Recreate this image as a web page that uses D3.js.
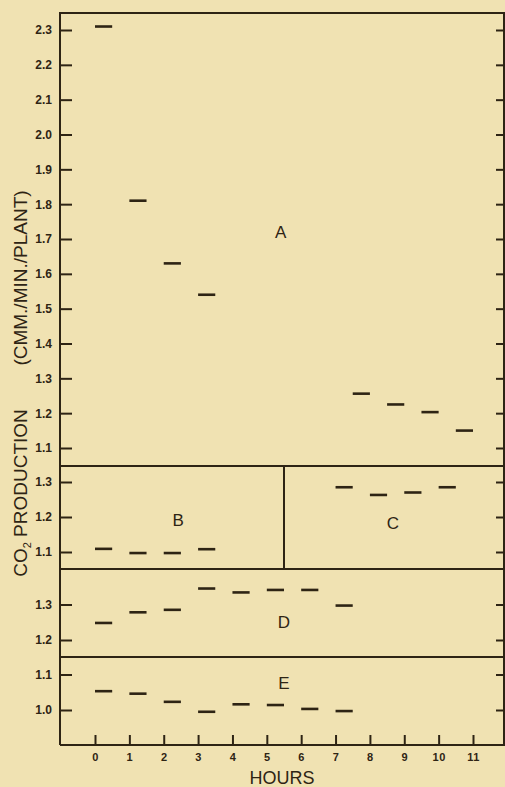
<!DOCTYPE html>
<html>
<head>
<meta charset="utf-8">
<script src="https://cdn.jsdelivr.net/npm/d3@7"></script>
<style>
	html, body { margin: 0; padding: 0; background: #f0e2b2; }
	svg { display: block; }
	.axis text { font-family: "Liberation Sans", Arial, sans-serif; font-weight: bold; font-size: 12px; fill: #2e2414; }
	.axis.x text { font-size: 11px; letter-spacing: 0.5px; }
	.axis line { stroke: #2e2414; stroke-width: 2; }
	.axis .domain { display: none; }
	.frame { stroke: #2e2414; stroke-width: 2; fill: none; }
	.dash { stroke: #2e2414; stroke-width: 2.6; }
	.label { font-family: "Liberation Sans", Arial, sans-serif; fill: #2e2414; }
</style>
</head>
<body>
<svg id="chart" width="505" height="787"></svg>
<script>
// x axis tick labels (hours)
const hours = [0, 1, 2, 3, 4, 5, 6, 7, 8, 9, 10, 11];

// each reading is a half hour dash starting at the given hour
const startA = [0, 1, 2, 3, 7.5, 8.5, 9.5, 10.5];
const co2A = [2.31, 1.81, 1.63, 1.54, 1.256, 1.225, 1.203, 1.15];
const ticksA = [1.1, 1.2, 1.3, 1.4, 1.5, 1.6, 1.7, 1.8, 1.9, 2.0, 2.1, 2.2, 2.3];

const startB = [0, 1, 2, 3];
const co2B = [1.109, 1.097, 1.097, 1.108];
const ticksB = [1.1, 1.2, 1.3];

const startC = [7, 8, 9, 10];
const co2C = [1.285, 1.263, 1.27, 1.285];

const startD = [0, 1, 2, 3, 4, 5, 6, 7];
const co2D = [1.248, 1.278, 1.285, 1.345, 1.334, 1.341, 1.341, 1.297];
const ticksD = [1.2, 1.3];

const startE = [0, 1, 2, 3, 4, 5, 6, 7];
const co2E = [1.053, 1.046, 1.023, 0.995, 1.016, 1.014, 1.003, 0.997];
const ticksE = [1.0, 1.1];

const svg = d3.select("#chart");

// plot box edges
const boxLeft = 60, boxRight = 504, boxTop = 13, boxBottom = 745;

const x = d3.scaleLinear().domain([0, 11]).range([95, 473]);

// one y scale per panel, all with the same units per pixel
const panels = [
	{ y: d3.scaleLinear().domain([1.1, 2.3]).range([448, 30]), ticks: ticksA },
	{ y: d3.scaleLinear().domain([1.1, 1.3]).range([552, 482]), ticks: ticksB },
	{ y: d3.scaleLinear().domain([1.2, 1.3]).range([640, 604.5]), ticks: ticksD },
	{ y: d3.scaleLinear().domain([1.0, 1.1]).range([710, 674.5]), ticks: ticksE }
];
const dividers = [466, 569, 657];

panels.forEach(p => {
	svg.append("g").attr("class", "axis").attr("transform", `translate(${boxLeft},0)`)
		.call(d3.axisLeft(p.y).tickValues(p.ticks).tickSize(-12).tickPadding(8).tickFormat(d3.format(".1f")));
	svg.append("g").attr("class", "axis").attr("transform", `translate(${boxRight},0)`)
		.call(d3.axisRight(p.y).tickValues(p.ticks).tickSize(-8).tickFormat(""));
});

// x axis, ticks point up into the plot
svg.append("g").attr("class", "axis x").attr("transform", `translate(0,${boxBottom})`)
	.call(d3.axisBottom(x).tickValues(hours).tickSize(-10).tickPadding(8).tickFormat(d3.format("d")));

// frame and panel dividers
svg.append("path").attr("class", "frame")
	.attr("d", `M${boxLeft},${boxBottom}V${boxTop}H${boxRight}V${boxBottom}H${boxLeft}`);
dividers.forEach(yy => {
	svg.append("line").attr("class", "frame").attr("x1", boxLeft).attr("x2", boxRight).attr("y1", yy).attr("y2", yy);
});
// B | C divider at 5.5 hours
svg.append("line").attr("class", "frame").attr("x1", x(5.5)).attr("x2", x(5.5)).attr("y1", dividers[0]).attr("y2", dividers[1]);

function dashes(starts, values, y) {
	svg.append("g").selectAll("line").data(starts).enter().append("line").attr("class", "dash")
		.attr("x1", d => x(d)).attr("x2", d => x(d + 0.5))
		.attr("y1", (d, i) => y(values[i])).attr("y2", (d, i) => y(values[i]));
}
dashes(startA, co2A, panels[0].y);
dashes(startB, co2B, panels[1].y);
dashes(startC, co2C, panels[1].y);
dashes(startD, co2D, panels[2].y);
dashes(startE, co2E, panels[3].y);

// panel letters
function letter(t, h, v, y) {
	svg.append("text").attr("class", "label").attr("x", x(h)).attr("y", y(v))
		.attr("text-anchor", "middle").attr("dominant-baseline", "central")
		.attr("font-size", 17).text(t);
}
letter("A", 5.4, 1.72, panels[0].y);
letter("B", 2.42, 1.189, panels[1].y);
letter("C", 8.67, 1.182, panels[1].y);
letter("D", 5.5, 1.25, panels[2].y);
letter("E", 5.5, 1.075, panels[3].y);

// axis titles
svg.append("text").attr("class", "label").attr("x", 282).attr("y", 784)
	.attr("text-anchor", "middle").attr("font-size", 18).text("HOURS");

svg.append("text").attr("class", "label").attr("transform", "translate(27,278) rotate(-90)")
	.attr("text-anchor", "middle").attr("font-size", 19).text("(CMM./MIN./PLANT)");
const co2 = svg.append("text").attr("class", "label").attr("transform", "translate(27,493) rotate(-90)")
	.attr("text-anchor", "middle").attr("font-size", 19);
co2.append("tspan").text("CO");
co2.append("tspan").attr("font-size", 11).attr("dy", 4).text("2");
co2.append("tspan").attr("dy", -4).text(" PRODUCTION");
</script>
</body>
</html>
